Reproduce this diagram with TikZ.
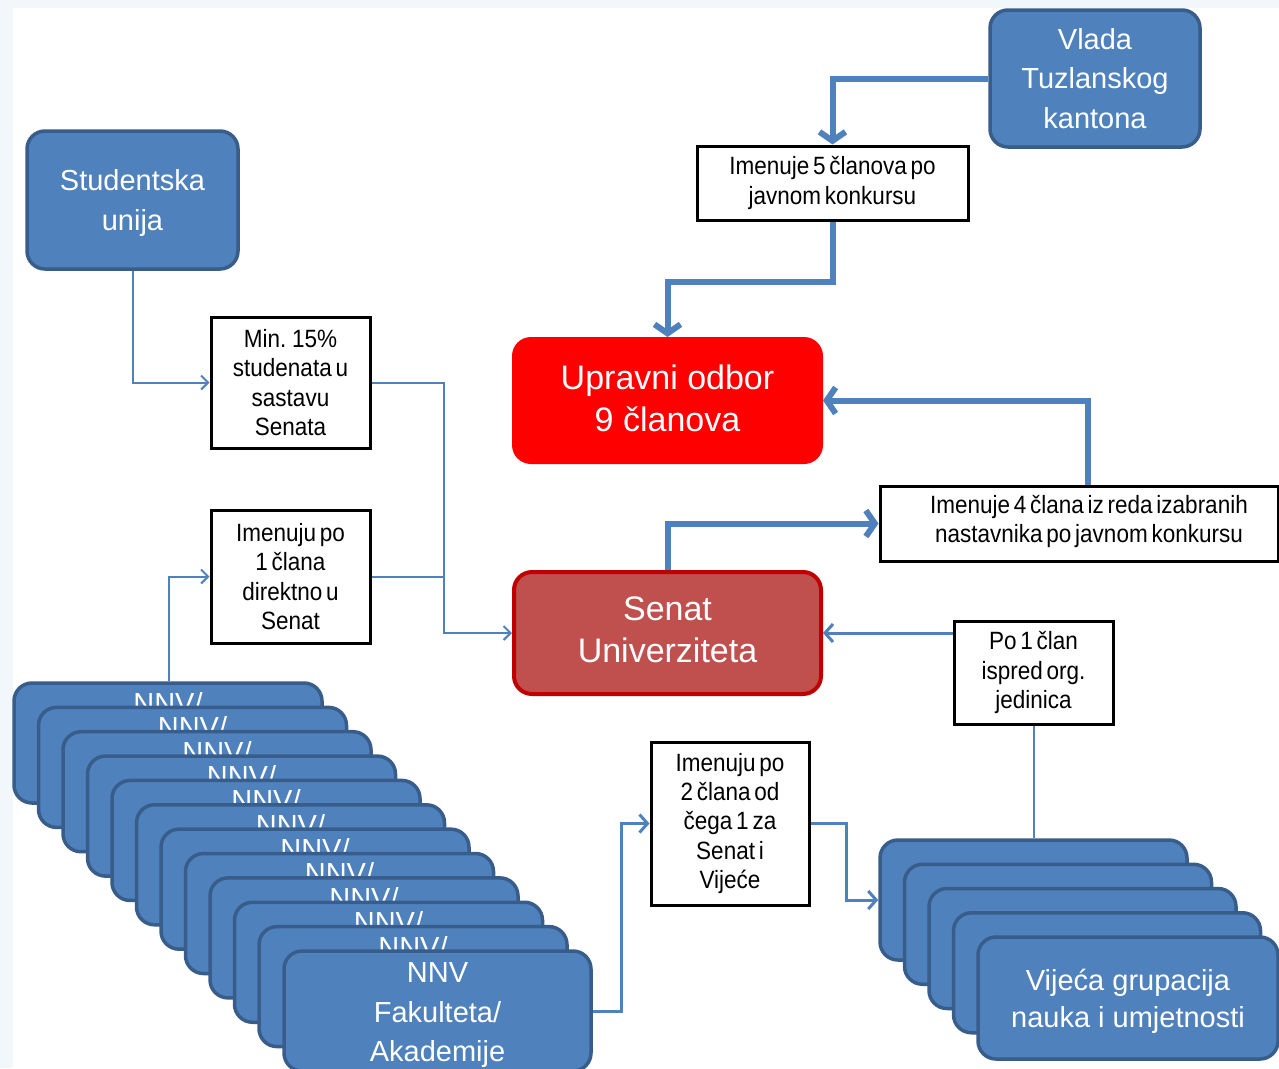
\documentclass[tikz,border=0pt]{standalone}
\usepackage{fontspec}
\setmainfont{Liberation Sans}
\newfontfamily\boxfont[FakeStretch=0.9,WordSpace=0.6]{Liberation Sans}
\usetikzlibrary{arrows.meta,calc}
\definecolor{bfill}{HTML}{4F81BD}
\definecolor{bdraw}{HTML}{385D8A}
\definecolor{conn}{HTML}{4F81BD}
\definecolor{sfill}{HTML}{C0504D}
\definecolor{sdraw}{HTML}{C00000}
\definecolor{bgc}{HTML}{F2F7FB}
\newcommand{\dnsix}{\rule{0pt}{27pt}}
\newcommand{\upsix}{\rule[-6pt]{0pt}{0pt}}
\begin{document}
\begin{tikzpicture}[x=1pt,y=-1pt,
  sized/.style 2 args={minimum width=#1pt, minimum height=#2pt},
  bluebox/.style={draw=bdraw, fill=bfill, line width=3.5pt, rounded corners=18pt,
    inner sep=0pt, text=white, align=center, font=\fontsize{29}{39.5}\selectfont},
  redbox/.style={draw=red, fill=red, line width=2pt, rounded corners=18pt,
    inner sep=0pt, text=white, align=center, font=\fontsize{34}{42}\selectfont},
  senatbox/.style={draw=sdraw, fill=sfill, line width=4pt, rounded corners=18pt,
    inner sep=0pt, text=white, align=center, font=\fontsize{34}{42}\selectfont},
  textbox/.style={draw=black, fill=white, line width=3pt, inner sep=0pt,
    align=center, font=\boxfont\fontsize{25}{29.3}\selectfont},
  boxtext/.style={inner sep=0pt, align=center, font=\boxfont\fontsize{25}{29.3}\selectfont},
  nnvlabel/.style={anchor=base, inner sep=0pt, text=white, font=\fontsize{29}{39.5}\selectfont},
  thickc/.style={draw=conn, line width=6pt, -{Straight Barb[length=9pt,width=26pt]}},
  medc/.style={draw=conn, line width=3pt, -{Straight Barb[length=8pt,width=18pt]}},
  thinc/.style={draw=conn, line width=2pt, -{Straight Barb[length=7pt,width=14pt]}},
  thinl/.style={draw=conn, line width=2pt}
]
\useasboundingbox (0,0) rectangle (1279,1068);
\fill[bgc] (0,0) rectangle (1279,1068);
\fill[white] (13,8) rectangle (1279,1068);

% main nodes
\node[bluebox, sized={211}{138}] (stud) at (132.5,200) {\dnsix Studentska\\unija};
\node[bluebox, sized={210}{137}] (vlada) at (1095,78.5) {Vlada\\Tuzlanskog\\kantona};
\node[textbox, sized={271}{74}] (imen5) at (832.5,183) {Imenuje 5 članova po\\javnom konkursu};
\node[redbox, sized={309}{125}] (upr) at (667.5,400.5) {Upravni odbor\\9 članova\rule[-4pt]{0pt}{0pt}};
\node[textbox, sized={398}{75}] (imen4) at (1079,523.5) {};
\node[boxtext] (imen4t) at (1089,521.5) {Imenuje 4 člana iz reda izabranih\\nastavnika po javnom konkursu};
\node[senatbox, sized={307}{122}] (senat) at (667.5,633) {Senat\\Univerziteta\upsix};
\node[textbox, sized={159}{131}] (min) at (290.5,382.5) {Min. 15\%\\studenata u\\sastavu\\Senata};
\node[textbox, sized={159}{133}] (imen1) at (290.5,576.5) {Imenuju po\\1 člana\\direktno u\\Senat};
\node[textbox, sized={159}{103}] (po1) at (1033.5,672.5) {Po 1 član\\ispred org.\\jedinica};
\node[textbox, sized={158}{163}] (imen2) at (730,823.5) {Imenuju po\\2 člana od\\čega 1 za\\Senat i\\Vijeće};

% NNV stack
\foreach \i in {0,...,10}{
  \node[bluebox, sized={308}{120}] (nnv\i) at ({168+24.5*\i},{743+24.36*\i}) {};
  \node[nnvlabel] (nnvl\i) at ({168+24.5*\i},{713.4+24.36*\i}) {NNV/};
}
\node[bluebox, sized={307}{120}] (nnv11) at (437.5,1011) {\rule{0pt}{28pt}NNV\\Fakulteta/\\Akademije};

% Vijeca stack
\foreach \j in {0,...,3}{
  \node[bluebox, sized={307}{120}] (vij\j) at ({1033.5+24.5*\j},{900+24.25*\j}) {};
}
\node[bluebox, sized={300}{122}, font=\fontsize{29}{37}\selectfont] (vij4) at (1128,998) {\dnsix Vijeća grupacija\\nauka i umjetnosti};

% connectors
\coordinate (jx) at (443.5,0);
\draw[thickc] (vlada.west) -| (imen5.north);
\draw[thickc] (imen5.south) -- ++(0,60) -| (upr.north);
\draw[thickc] ([xshift=9pt]imen4.north) |- (upr.east);
\draw[thickc] (senat.north) |- (imen4.west);
\draw[thinc] (stud.south) |- (min.west);
\draw[thinc] (min.east) -- (min.east -| jx) |- (senat.west);
\draw[thinl] (imen1.east) -- (imen1.east -| jx);
\draw[thinc] ([xshift=1pt]nnv0.north) |- (imen1.west);
\draw[medc] (po1.west |- senat.east) -- (senat.east);
\draw[thinl] (po1.south) -- (po1.south |- vij0.north);
\draw[medc] (nnv11.east) -- ++(29,0) |- (imen2.west);
\draw[medc] (imen2.east) -- ++(36,0) |- (vij0.west);
\end{tikzpicture}
\end{document}
